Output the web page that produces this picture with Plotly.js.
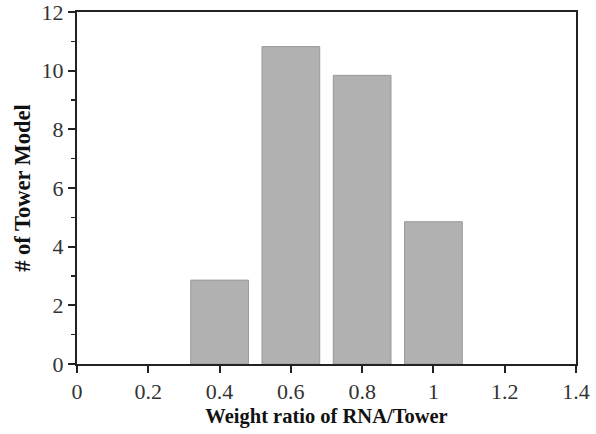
<!DOCTYPE html>
<html>
<head>
<meta charset="utf-8">
<script src="https://cdn.plot.ly/plotly-3.0.1.min.js"></script>
<style>html,body{margin:0;padding:0;background:#fff;}#chart{width:596px;height:434px;}</style>
</head>
<body>
<div id="chart"></div>
<script>
const weightRatio = [0.4, 0.6, 0.8, 1.0];
const towerCount = [2.86, 10.82, 9.84, 4.85];
const xTickVals = [0, 0.2, 0.4, 0.6, 0.8, 1, 1.2, 1.4];
const xTickText = ['0', '0.2', '0.4', '0.6', '0.8', '1', '1.2', '1.4'];
const yTickVals = [0, 2, 4, 6, 8, 10, 12];

const serif = 'Liberation Serif, Times New Roman, serif';

const trace = {
  type: 'bar',
  x: weightRatio,
  y: towerCount,
  width: 0.162,
  marker: {color: '#b1b1b1', line: {color: '#999999', width: 1}},
  hoverinfo: 'skip'
};

const layout = {
  width: 596, height: 434,
  margin: {l: 77, r: 20, t: 12, b: 70},
  paper_bgcolor: '#fff', plot_bgcolor: '#fff',
  showlegend: false,
  font: {family: serif, color: '#222'},
  xaxis: {
    range: [0, 1.4],
    tickvals: xTickVals, ticktext: xTickText,
    ticks: 'outside', ticklen: 7, tickwidth: 2, tickcolor: '#222',
    showline: true, linewidth: 2, linecolor: '#222', mirror: true,
    showgrid: false, zeroline: false,
    ticklabeloverflow: 'allow',
    tickfont: {family: serif, size: 22, color: '#333'},
    title: {text: '<b>Weight ratio of RNA/Tower</b>', font: {family: serif, size: 20.5, color: '#111'}, standoff: 5}
  },
  yaxis: {
    range: [0, 12],
    tickvals: yTickVals,
    ticks: 'outside', ticklen: 7, tickwidth: 2, tickcolor: '#222',
    minor: {dtick: 1, ticks: 'outside', ticklen: 4, tickwidth: 1.5, tickcolor: '#222', showgrid: false},
    showline: true, linewidth: 2, linecolor: '#222', mirror: true,
    showgrid: false, zeroline: false,
    ticklabeloverflow: 'allow',
    tickfont: {family: serif, size: 22, color: '#333'},
    title: {text: '<b># of Tower Model</b>', font: {family: serif, size: 22.5, color: '#111'}, standoff: 5}
  }
};

Plotly.newPlot('chart', [trace], layout, {staticPlot: true, displayModeBar: false});
</script>
</body>
</html>
